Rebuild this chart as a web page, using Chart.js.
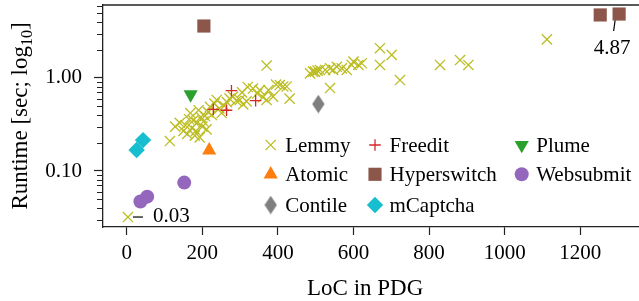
<!DOCTYPE html>
<html><head><meta charset="utf-8">
<script src="https://cdn.jsdelivr.net/npm/chart.js@4.4.1/dist/chart.umd.min.js"></script>
<style>html,body{margin:0;padding:0;background:#fff;}#wrap{width:639px;height:301px;position:relative;}canvas{display:block;}</style>
</head><body><div id="wrap"><canvas id="c" width="639" height="301"></canvas></div>
<script>
// ---------------- data ----------------
const seriesNames = ["Lemmy", "Atomic", "Contile", "Freedit", "Hyperswitch", "mCaptcha", "Plume", "Websubmit"];

const lemmyLoc = [3, 114, 128, 140, 150, 155, 160, 165, 168, 172, 176, 180, 183, 186, 190, 193, 196, 200, 203, 207, 211, 215, 220, 225, 232, 238, 245, 251, 258, 265, 272, 281, 290, 299, 305, 308, 317, 320, 334, 345, 352, 360, 370, 370, 375, 387, 395, 405, 414, 423, 431, 485, 493, 498, 505, 511, 525, 538, 538, 546, 556, 569, 582, 595, 600, 613, 622, 670, 670, 701, 723, 829, 882, 904, 1112];
const lemmyRuntime = [0.032, 0.21, 0.30, 0.33, 0.27, 0.31, 0.25, 0.36, 0.42, 0.29, 0.35, 0.24, 0.27, 0.33, 0.45, 0.23, 0.38, 0.30, 0.34, 0.39, 0.28, 0.43, 0.49, 0.40, 0.53, 0.58, 0.47, 0.42, 0.50, 0.55, 0.60, 0.63, 0.57, 0.58, 0.70, 0.52, 0.56, 0.80, 0.77, 0.68, 0.74, 0.62, 0.58, 1.36, 0.74, 0.63, 0.85, 0.84, 0.81, 0.81, 0.60, 1.12, 1.17, 1.17, 1.20, 1.22, 1.22, 1.27, 0.78, 1.22, 1.32, 1.27, 1.22, 1.38, 1.50, 1.38, 1.44, 2.09, 1.38, 1.77, 0.95, 1.38, 1.56, 1.38, 2.6];

const atomicLoc = [218];
const atomicRuntime = [0.167];

const contileLoc = [507];
const contileRuntime = [0.525];

const freeditLoc = [277, 341, 229, 264];
const freeditRuntime = [0.73, 0.57, 0.46, 0.45];

const hyperswitchLoc = [204, 1253, 1303];
const hyperswitchRuntime = [3.62, 4.76, 4.87];

const mcaptchaLoc = [43, 26];
const mcaptchaRuntime = [0.215, 0.168];

const plumeLoc = [169];
const plumeRuntime = [0.665];

const websubmitLoc = [152, 54, 36];
const websubmitRuntime = [0.075, 0.053, 0.047];

const xTickValues = [0, 200, 400, 600, 800, 1000, 1200];
const xTickLabels = ["0", "200", "400", "600", "800", "1000", "1200"];
const yTickValues = [0.1, 1];
const yTickLabels = ["0.10", "1.00"];
const xAxisTitle = "LoC in PDG";
const yAxisTitleMain = "Runtime [sec; log";
const yAxisTitleSub = "10";
const yAxisTitleEnd = "]";
// annotations: [series, point index, label]
const annotations = [["Hyperswitch", 2, "4.87"], ["Lemmy", 0, "0.03"]];

// ---------------- styles ----------------
const FONT = "'Liberation Serif', 'Times New Roman', 'DejaVu Serif', serif";
const AXIS = '#222';

function thinDiamond(color) {
  const c = document.createElement('canvas');
  c.width = 13; c.height = 19;
  const g = c.getContext('2d');
  g.fillStyle = color;
  g.beginPath();
  g.moveTo(6.5, 0.3); g.lineTo(12.7, 9.5); g.lineTo(6.5, 18.7); g.lineTo(0.3, 9.5);
  g.closePath(); g.fill();
  return c;
}

const styles = {
  Lemmy:      {pointStyle: 'crossRot', radius: 7.2, rotation: 0, color: '#bcbd22', borderWidth: 1.3},
  Atomic:     {pointStyle: 'triangle', radius: 8.2, rotation: 0, color: '#ff7f0e', borderWidth: 0},
  Contile:    {pointStyle: thinDiamond('#7f7f7f'), radius: 9, rotation: 0, color: '#7f7f7f', borderWidth: 0},
  Freedit:    {pointStyle: 'cross', radius: 5.8, rotation: 0, color: '#d62728', borderWidth: 1.3},
  Hyperswitch:{pointStyle: 'rect', radius: 9.3, rotation: 0, color: '#8c564b', borderWidth: 0},
  mCaptcha:   {pointStyle: 'rectRot', radius: 8.2, rotation: 0, color: '#17becf', borderWidth: 0},
  Plume:      {pointStyle: 'triangle', radius: 8.2, rotation: 180, color: '#2ca02c', borderWidth: 0},
  Websubmit:  {pointStyle: 'circle', radius: 7, rotation: 0, color: '#9467bd', borderWidth: 0}
};

const seriesData = {
  Lemmy: [lemmyLoc, lemmyRuntime],
  Atomic: [atomicLoc, atomicRuntime],
  Contile: [contileLoc, contileRuntime],
  Freedit: [freeditLoc, freeditRuntime],
  Hyperswitch: [hyperswitchLoc, hyperswitchRuntime],
  mCaptcha: [mcaptchaLoc, mcaptchaRuntime],
  Plume: [plumeLoc, plumeRuntime],
  Websubmit: [websubmitLoc, websubmitRuntime]
};

const datasets = seriesNames.map((name, i) => {
  const s = styles[name];
  const [xs, ys] = seriesData[name];
  return {
    label: name,
    data: xs.map((x, k) => ({x: x, y: ys[k]})),
    pointStyle: s.pointStyle,
    pointRadius: s.radius,
    pointRotation: s.rotation,
    backgroundColor: s.color,
    borderColor: s.color,
    pointBorderWidth: s.borderWidth,
    borderWidth: s.borderWidth,
    showLine: false,
    order: seriesNames.length - i,
    clip: false
  };
});

// ---------------- plugins ----------------
const extras = {
  id: 'extras',
  afterDraw(chart) {
    const ctx = chart.ctx;
    const a = chart.chartArea;
    const xs = chart.scales.x, ys = chart.scales.y;
    ctx.save();
    // top spine
    ctx.strokeStyle = AXIS; ctx.lineWidth = 1.3;
    ctx.beginPath(); ctx.moveTo(a.left - 0.65, a.top); ctx.lineTo(a.right + 1, a.top); ctx.stroke();
    // minor y ticks
    ctx.lineWidth = 1;
    for (let d = -2; d <= 0; d++) {
      for (let m = 2; m <= 9; m++) {
        const v = m * Math.pow(10, d);
        if (v < ys.min || v > ys.max) continue;
        const py = Math.round(ys.getPixelForValue(v)) + 0.5;
        ctx.beginPath(); ctx.moveTo(a.left - 6, py); ctx.lineTo(a.left, py); ctx.stroke();
      }
    }
    // axis titles
    ctx.fillStyle = '#000';
    ctx.font = '23px ' + FONT;
    ctx.textAlign = 'center'; ctx.textBaseline = 'alphabetic';
    ctx.fillText(xAxisTitle, a.left + (a.right - a.left) * 0.49, 295);
    // y title with subscript
    const big = '23px ' + FONT, small = '16px ' + FONT;
    ctx.font = big; const w1 = ctx.measureText(yAxisTitleMain).width;
    const w3 = ctx.measureText(yAxisTitleEnd).width;
    ctx.font = small; const w2 = ctx.measureText(yAxisTitleSub).width;
    const total = w1 + w2 + w3;
    ctx.translate(27, (a.top + a.bottom) / 2);
    ctx.rotate(-Math.PI / 2);
    ctx.textAlign = 'left';
    let sx = -total / 2;
    ctx.font = big; ctx.fillText(yAxisTitleMain, sx, 0); sx += w1;
    ctx.font = small; ctx.fillText(yAxisTitleSub, sx, 5); sx += w2;
    ctx.font = big; ctx.fillText(yAxisTitleEnd, sx, 0);
    ctx.restore();

    // annotations
    ctx.save();
    ctx.fillStyle = '#000'; ctx.strokeStyle = '#000'; ctx.lineWidth = 1.2;
    ctx.font = '21px ' + FONT;
    annotations.forEach(([name, idx, label]) => {
      const [lx, ly] = seriesData[name];
      const px = xs.getPixelForValue(lx[idx]);
      const py = ys.getPixelForValue(ly[idx]);
      if (name === 'Hyperswitch') {
        ctx.beginPath(); ctx.moveTo(px - 4, py + 6.5); ctx.lineTo(px - 5.5, py + 17); ctx.stroke();
        ctx.textAlign = 'center'; ctx.textBaseline = 'alphabetic';
        ctx.fillText(label, px - 7, py + 40);
      } else {
        ctx.beginPath(); ctx.moveTo(px + 5, py); ctx.lineTo(px + 15, py); ctx.stroke();
        ctx.textAlign = 'left'; ctx.textBaseline = 'alphabetic';
        ctx.fillText(label, px + 25, py + 5);
      }
    });
    ctx.restore();

    // legend (3 columns, filled column by column)
    ctx.save();
    const colX = [167.7, 272, 418.7];
    const rowY = [140, 169.3, 200];
    ctx.font = '21px ' + FONT;
    ctx.textAlign = 'left'; ctx.textBaseline = 'alphabetic';
    seriesNames.forEach((name, i) => {
      const col = Math.floor(i / 3), row = i % 3;
      const mx = a.left + colX[col], my = a.top + rowY[row];
      const s = styles[name];
      ctx.fillStyle = s.color; ctx.strokeStyle = s.color; ctx.lineWidth = s.borderWidth;
      Chart.helpers.drawPoint(ctx, {pointStyle: s.pointStyle, rotation: s.rotation, radius: s.radius, borderWidth: s.borderWidth}, mx, my);
      ctx.fillStyle = '#000';
      ctx.fillText(name, mx + 14.5, my + 7);
    });
    ctx.restore();
  }
};

new Chart(document.getElementById('c'), {
  type: 'scatter',
  data: {datasets: datasets},
  plugins: [extras],
  options: {
    responsive: false,
    animation: false,
    devicePixelRatio: 1,
    events: [],
    layout: {autoPadding: false, padding: {left: 0, right: 1, top: 5, bottom: 0}},
    plugins: {legend: {display: false}, tooltip: {enabled: false}},
    scales: {
      x: {
        type: 'linear', min: -63, max: 1353,
        afterBuildTicks: s => { s.ticks = xTickValues.map(v => ({value: v})); },
        afterFit: s => { s.height = 74; s.paddingLeft = 0; s.paddingRight = 0; },
        ticks: {font: {family: FONT, size: 21}, color: '#000', padding: 6, maxRotation: 0, autoSkip: false,
          callback: (v, i) => xTickLabels[i]},
        grid: {drawOnChartArea: false, drawTicks: true, tickLength: 8, tickWidth: 1.2, tickColor: AXIS},
        border: {display: true, color: AXIS, width: 1.3}
      },
      y: {
        type: 'logarithmic', min: 0.025, max: 6.09,
        afterBuildTicks: s => { s.ticks = yTickValues.map(v => ({value: v})); },
        afterFit: s => { s.width = 103; s.paddingTop = 0; s.paddingBottom = 0; },
        ticks: {font: {family: FONT, size: 21}, color: '#000', padding: 12, autoSkip: false,
          callback: (v, i) => yTickLabels[i]},
        grid: {drawOnChartArea: false, drawTicks: true, tickLength: 9, tickWidth: 1.2, tickColor: AXIS},
        border: {display: true, color: AXIS, width: 1.3}
      }
    }
  }
});
</script></body></html>
